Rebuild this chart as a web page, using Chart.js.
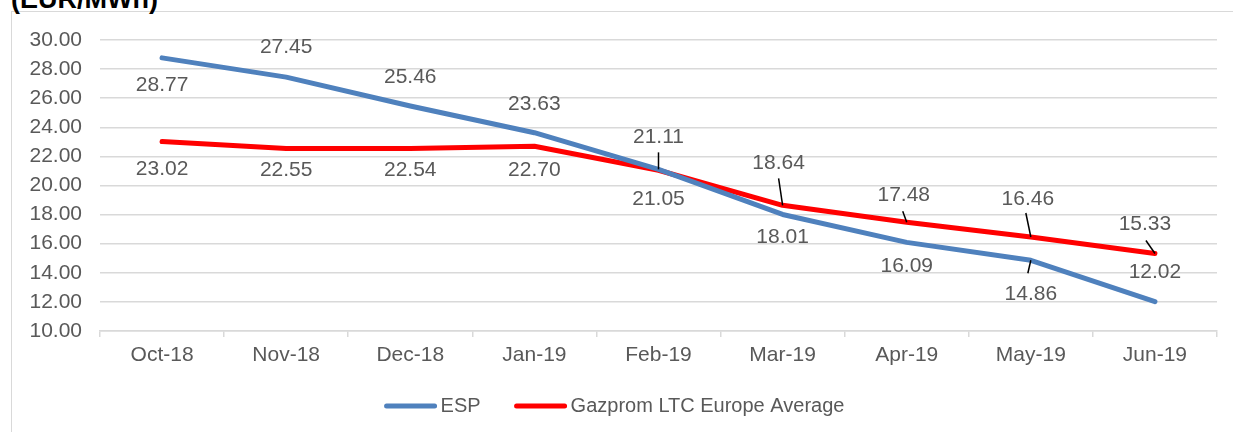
<!DOCTYPE html>
<html>
<head>
<meta charset="utf-8">
<script src="https://cdn.jsdelivr.net/npm/chart.js@4"></script>
<style>
  html, body { margin: 0; padding: 0; background: #fff; overflow: hidden; }
  #wrap { position: relative; width: 1233px; height: 432px; }
  #frame { position: absolute; left: 11px; top: 11px; width: 1240px; height: 440px; border: 1px solid #d9d9d9; box-sizing: border-box; }
  #title { position: absolute; left: 11px; top: -16px; font: bold 27px "Liberation Sans", Arial, sans-serif; color: #000; }
  canvas { position: absolute; left: 0; top: 0; }
</style>
</head>
<body>
<div id="wrap">
  <div id="frame"></div>
  <div id="title">(EUR/MWh)</div>
  <canvas id="myChart" width="1233" height="432"></canvas>
</div>
<script>
const months = ['Oct-18', 'Nov-18', 'Dec-18', 'Jan-19', 'Feb-19', 'Mar-19', 'Apr-19', 'May-19', 'Jun-19'];
const espValues = [28.77, 27.45, 25.46, 23.63, 21.11, 18.01, 16.09, 14.86, 12.02];
const gazpromValues = [23.02, 22.55, 22.54, 22.70, 21.05, 18.64, 17.48, 16.46, 15.33];
const yTicks = [10, 12, 14, 16, 18, 20, 22, 24, 26, 28, 30];

// label placement relative to the point: [dx, dy], leader end [ex, ey] or null
const espLabelPos = [[0, 27], [0, -30], [0, -29], [0, -28], [0, -32], [0, 23], [0, 24], [0, 34], [0, -29]];
const espLeaders = [null, null, null, null, [0, -17], null, null, [-3, 13], null];
const gazLabelPos = [[0, 28], [0, 22], [0, 22], [0, 24], [0, 29], [-4, -42], [-3, -27], [-3, -38], [-10, -29]];
const gazLeaders = [null, null, null, null, null, [-4, -27], [-4, -11], [-5, -24], [-9, -13]];

const FONT = '"Liberation Sans", Arial, sans-serif';

const valueLabels = {
  id: 'valueLabels',
  afterDatasetsDraw(chart) {
    const c = chart.ctx;
    const places = [espLabelPos, gazLabelPos];
    const leaders = [espLeaders, gazLeaders];
    c.save();
    c.font = '21px ' + FONT;
    c.textAlign = 'center';
    c.textBaseline = 'middle';
    chart.data.datasets.forEach((ds, i) => {
      const meta = chart.getDatasetMeta(i);
      meta.data.forEach((pt, j) => {
        const [dx, dy] = places[i][j];
        const ld = leaders[i][j];
        if (ld) {
          c.strokeStyle = '#000';
          c.lineWidth = 1.5;
          c.beginPath();
          c.moveTo(pt.x, pt.y);
          c.lineTo(pt.x + ld[0], pt.y + ld[1]);
          c.stroke();
        }
        c.fillStyle = '#595959';
        c.fillText(ds.data[j].toFixed(2), pt.x + dx, pt.y + dy);
      });
    });
    c.restore();
  }
};

// legend drawn by hand: long line sample, text right after it
const lineLegend = {
  id: 'lineLegend',
  afterDraw(chart) {
    const c = chart.ctx;
    const y = 406, lineW = 52, gap = 4, itemGap = 34;
    c.save();
    c.font = '20px ' + FONT;
    c.textBaseline = 'middle';
    const items = chart.data.datasets.map(ds => ({ ds, w: lineW + gap + c.measureText(ds.label).width }));
    const total = items.reduce((s, it) => s + it.w, 0) + itemGap * (items.length - 1);
    let x = chart.width / 2 - total / 2 - 2;
    items.forEach(({ ds, w }) => {
      c.strokeStyle = ds.borderColor;
      c.lineWidth = 5;
      c.lineCap = 'round';
      c.beginPath();
      c.moveTo(x + 2, y);
      c.lineTo(x + lineW - 2, y);
      c.stroke();
      c.fillStyle = '#595959';
      c.fillText(ds.label, x + lineW + gap, y);
      x += w + itemGap;
    });
    c.restore();
  }
};

const ctx = document.getElementById('myChart').getContext('2d');

const myChart = new Chart(ctx, {
  type: 'line',
  data: {
    labels: months,
    datasets: [
      {
        label: 'ESP',
        data: espValues,
        borderColor: '#4f81bd',
        backgroundColor: '#4f81bd',
        borderWidth: 5,
        pointRadius: 0,
        borderCapStyle: 'round',
        borderJoinStyle: 'round',
        tension: 0
      },
      {
        label: 'Gazprom LTC Europe Average',
        data: gazpromValues,
        borderColor: '#ff0000',
        backgroundColor: '#ff0000',
        borderWidth: 5,
        pointRadius: 0,
        borderCapStyle: 'round',
        borderJoinStyle: 'round',
        tension: 0
      }
    ]
  },
  plugins: [valueLabels, lineLegend],
  options: {
    responsive: false,
    animation: false,
    layout: { padding: { top: 40, right: 16, bottom: 46, left: 0 } },
    scales: {
      y: {
        min: 10,
        max: 30,
        afterBuildTicks: (scale) => { scale.ticks = yTicks.map(v => ({ value: v })); },
        afterFit: (scale) => { scale.width = 100; },
        grid: { color: '#d9d9d9', lineWidth: 1.5, drawTicks: false },
        border: { display: false },
        ticks: {
          padding: 18,
          color: '#595959',
          font: { family: FONT, size: 21 },
          callback: (v) => Number(v).toFixed(2)
        }
      },
      x: {
        offset: true,
        afterFit: (scale) => { scale.height = 55; },
        grid: { display: true, drawOnChartArea: false, offset: true, color: '#d9d9d9', lineWidth: 1.5, tickLength: 6 },
        border: { display: true, color: '#d9d9d9', width: 1.5 },
        ticks: {
          padding: 6,
          color: '#595959',
          font: { family: FONT, size: 21 }
        }
      }
    },
    plugins: {
      legend: { display: false },
      tooltip: { enabled: false }
    }
  }
});
</script>
</body>
</html>
